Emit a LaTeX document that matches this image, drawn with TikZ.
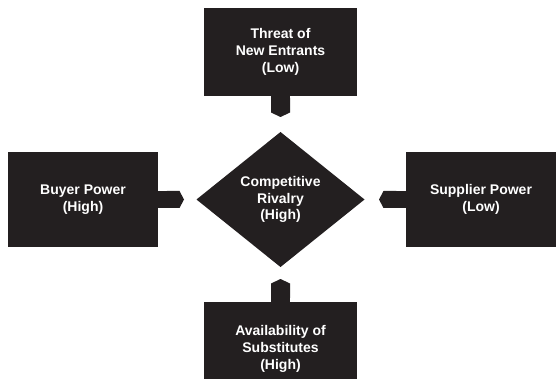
\documentclass[tikz,border=0pt]{standalone}
\usepackage{fontspec}
\setmainfont{Liberation Sans}
\usepackage{tikz}
\usetikzlibrary{shapes.geometric, arrows.meta, positioning}
\definecolor{inkblack}{RGB}{35, 31, 32}
\tikzset{
  stub/.style={-{Triangle Cap[length=4.5pt]}, line width=19pt, draw=inkblack},
  stub_side/.style={-{Triangle Cap[length=4.5pt]}, line width=17pt, draw=inkblack}
}

\begin{document}
\begin{tikzpicture}[x=1pt, y=-1pt,
    forcebox/.style={rectangle, fill=inkblack, text=white, font=\fontsize{14}{16.7}\selectfont\bfseries, align=center, inner sep=0pt, outer sep=0pt},
    rivalbox/.style={diamond, aspect=1.24, fill=inkblack, text=white, font=\fontsize{14}{16.7}\selectfont\bfseries, align=center, inner sep=0pt, outer sep=0pt, minimum width=168pt, minimum height=135pt}
]
    \useasboundingbox (0, 0) rectangle (556, 379);

    % Centre diamond
    \node[rivalbox] (rival) at (280.5, 199.5) {Competitive\\Rivalry\\(High)};

    % Four forces around it (top, left, right, bottom)
    \node[forcebox, minimum width=153pt, minimum height=88pt] (entrants) at (280.5, 52) {Threat of\\New Entrants\\(Low)};
    \node[forcebox, minimum width=150pt, minimum height=95pt] (buyer) at (83, 199.5) {Buyer Power\\(High)};
    \node[forcebox, minimum width=150pt, minimum height=95pt] (supplier) at (481, 199.5) {Supplier Power\\(Low)};
    \node[forcebox, minimum width=153pt, minimum height=94pt] (substitutes) at (280.5, 349) {Availability of\\Substitutes\\(High)};

    % Pointed stubs towards the diamond
    \draw[stub, shorten >=15pt] (entrants.south) -- (rival.north);
    \draw[stub, shorten >=12pt] (substitutes.north) -- (rival.south);
    \draw[stub_side, shorten >=12.5pt] (buyer.east) -- (rival.west);
    \draw[stub_side, shorten >=14.5pt] (supplier.west) -- (rival.east);
\end{tikzpicture}
\end{document}
